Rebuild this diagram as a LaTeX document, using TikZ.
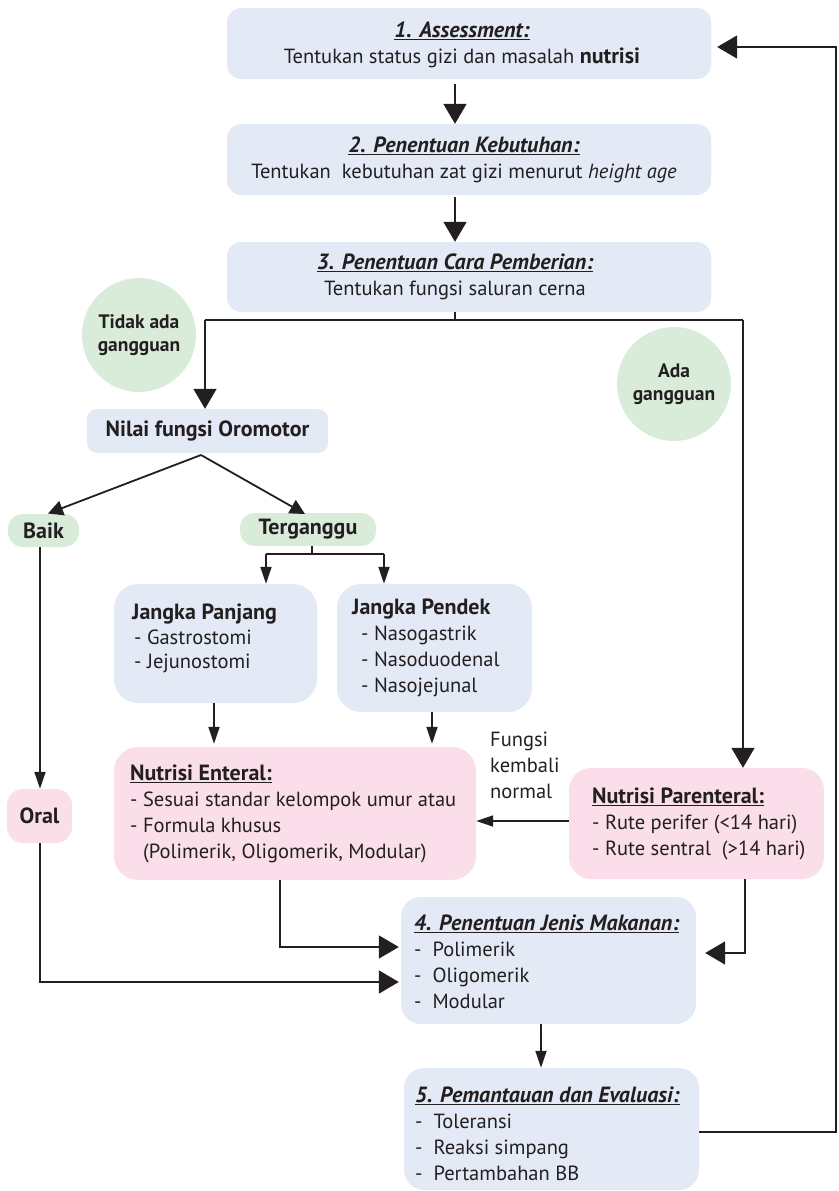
\documentclass[tikz,border=0pt]{standalone}
\usepackage{fontspec}
\setmainfont{PT Sans}
\usetikzlibrary{arrows.meta,calc}
\definecolor{bbox}{RGB}{227,233,245}
\definecolor{pbox}{RGB}{250,222,233}
\definecolor{gbox}{RGB}{217,236,218}
\definecolor{ink}{RGB}{35,31,32}
\newcommand\BoldT[1]{{\fontsize{22}{26}\selectfont\bfseries #1}}
\newcommand\TitleT[1]{\underline{\fontsize{22}{26}\selectfont\bfseries\itshape #1}}
\newcommand\UndT[1]{\underline{\fontsize{22}{26}\selectfont\bfseries #1}}
\begin{document}
\begin{tikzpicture}[x=1pt,y=-1pt,
  font=\fontsize{20.5}{26}\selectfont, text=ink,
  sbox/.style={rectangle, inner sep=0pt, rounded corners=14pt},
  bluebox/.style={sbox, fill=bbox},
  pinkbox/.style={sbox, fill=pbox},
  greenbox/.style={sbox, fill=gbox, rounded corners=15pt, font=\fontsize{22}{26}\selectfont\bfseries},
  greencirc/.style={circle, fill=gbox, inner sep=0pt, minimum size=114pt, align=center, font=\fontsize{19.5}{23}\selectfont\bfseries},
  txt/.style={inner sep=0pt, align=left, anchor=west},
  ctxt/.style={inner sep=0pt, align=center},
  conn/.style={draw=ink, line width=1.8pt},
  bigarrow/.style={conn, -{Triangle[width=23pt,length=20pt]}},
  midarrow/.style={conn, -{Triangle[width=15pt,length=15pt]}},
  smallarrow/.style={conn, -{Triangle[width=11pt,length=17pt]}},
]
\useasboundingbox (0,0) rectangle (838,1191);
% boxes
\node[bluebox, minimum width=484pt, minimum height=71pt] (box1) at (469,43.5) {};
\node[bluebox, minimum width=484pt, minimum height=71pt] (box2) at (469,159.5) {};
\node[bluebox, minimum width=484pt, minimum height=70pt] (box3) at (469,277) {};
\node[greencirc] (tidak) at (139,335) {Tidak ada\\gangguan};
\node[greencirc] (ada) at (674,384) {Ada\\gangguan};
\node[bluebox, rounded corners=10pt, minimum width=241pt, minimum height=44pt, font=\fontsize{22}{26}\selectfont\bfseries] (nilai) at (207.5,431) {Nilai fungsi Oromotor};
\node[greenbox, minimum width=71pt, minimum height=33pt] (baik) at (43.5,530.5) {Baik};
\node[greenbox, minimum width=136pt, minimum height=33pt] (terganggu) at (308,529.5) {Terganggu};
\node[bluebox, rounded corners=24pt, minimum width=203pt, minimum height=119pt] (panjang) at (215.5,643.5) {};
\node[bluebox, rounded corners=24pt, minimum width=195pt, minimum height=128pt] (pendek) at (434.5,648) {};
\node[pinkbox, rounded corners=24pt, minimum width=362pt, minimum height=133pt] (enteral) at (295,813.5) {};
\node[pinkbox, rounded corners=16pt, minimum width=65pt, minimum height=54pt, font=\fontsize{22}{26}\selectfont\bfseries] (oral) at (39.5,816) {Oral};
\node[pinkbox, rounded corners=22pt, minimum width=255pt, minimum height=111pt] (parenteral) at (696.5,823.5) {};
\node[bluebox, rounded corners=20pt, minimum width=295pt, minimum height=127pt] (box4) at (548.5,960.5) {};
\node[bluebox, rounded corners=20pt, minimum width=295pt, minimum height=122pt] (box5) at (551.5,1129) {};
% connectors
\coordinate (cx) at (455,0);
\draw[bigarrow, shorten <=5pt] (box1.south -| cx) -- (box2.north -| cx);
\draw[bigarrow, shorten <=2pt] (box2.south -| cx) -- (box3.north -| cx);
\coordinate (split) at (455,320);
\coordinate (lx) at (205,320);
\coordinate (rx) at (743,320);
\draw[conn] (box3.south -| split) -- (split);
\draw[conn] (lx) -- (rx);
\draw[bigarrow] (lx) -- (lx |- nilai.north);
\draw[bigarrow] (rx) -- (rx |- parenteral.north);
\coordinate (nb) at (201,455);
\draw[midarrow] (nb) -- (48,513.5);
\draw[midarrow] (nb) -- (305,514);
\coordinate (tj) at (312,554);
\coordinate (pj) at (266,554);
\coordinate (pd) at (384,554);
\draw[conn] (terganggu.south -| tj) -- (tj);
\draw[conn] (pj) -- (pd);
\draw[smallarrow] (pj) -- (pj |- panjang.north);
\draw[smallarrow] (pd) -- (pd |- pendek.north);
\coordinate (ox) at (40,0);
\draw[smallarrow] (baik.south -| ox) -- (oral.north -| ox);
\coordinate (ex1) at (214,0);
\coordinate (ex2) at (432,0);
\draw[smallarrow, shorten >=3pt] (panjang.south -| ex1) -- (enteral.north -| ex1);
\draw[smallarrow, shorten >=3pt] (pendek.south -| ex2) -- (enteral.north -| ex2);
\coordinate (py) at (0,821);
\draw[smallarrow] (parenteral.west |- py) -- (enteral.east |- py);
\coordinate (e4) at (280,947);
\draw[bigarrow, shorten >=2pt] (enteral.south -| e4) |- (box4.west |- e4);
\coordinate (o4) at (40,982);
\draw[bigarrow, shorten >=2pt] (oral.south -| o4) |- (box4.west |- o4);
\coordinate (p4) at (745,953);
\draw[bigarrow, shorten >=9pt] (parenteral.south -| p4) |- (box4.east |- p4);
\coordinate (b45) at (541,0);
\draw[smallarrow] (box4.south -| b45) -- (box5.north -| b45);
\coordinate (fb) at (836,1132);
\coordinate (ft) at (836,47);
\draw[bigarrow, shorten >=6pt] (box5.east |- fb) -- (fb) -- (ft) -- (box1.east |- ft);
% texts
\node[ctxt] (t1) at (462,44.5) {\TitleT{1. Assessment:}\\Tentukan status gizi dan masalah \BoldT{nutrisi}};
\node[ctxt] (t2) at (464,159.5) {\TitleT{2. Penentuan Kebutuhan:}\\Tentukan\ \ kebutuhan zat gizi menurut \textit{height age}};
\node[ctxt] (t3) at (455,277) {\TitleT{3. Penentuan Cara Pemberian:}\\Tentukan fungsi saluran cerna};
\node[txt, font=\fontsize{20.5}{24.5}\selectfont] (tp) at (132,638.5) {\BoldT{Jangka Panjang}\\\hspace{2pt}- Gastrostomi\\\hspace{2pt}- Jejunostomi};
\node[txt] (td) at (352,647.5) {\BoldT{Jangka Pendek}\\\hspace{9pt}- Nasogastrik\\\hspace{9pt}- Nasoduodenal\\\hspace{9pt}- Nasojejunal};
\node[txt] (te) at (130,814) {\UndT{Nutrisi Enteral:}\\- Sesuai standar kelompok umur atau\\- Formula khusus\\\hspace{13pt}(Polimerik, Oligomerik, Modular)};
\node[txt] (tpa) at (592,823.6) {\UndT{Nutrisi Parenteral:}\\- Rute perifer (<14 hari)\\- Rute sentral\ \ (>14 hari)};
\node[txt] (tf) at (490,765.7) {Fungsi\\kembali\\normal};
\node[txt] (t4) at (414,962) {\TitleT{4. Penentuan Jenis Makanan:}\\-\ \ Polimerik\\-\ \ Oligomerik\\-\ \ Modular};
\node[txt] (t5) at (415,1133.5) {\TitleT{5. Pemantauan dan Evaluasi:}\\-\ \ Toleransi\\-\ \ Reaksi simpang\\-\ \ Pertambahan BB};
\end{tikzpicture}
\end{document}
